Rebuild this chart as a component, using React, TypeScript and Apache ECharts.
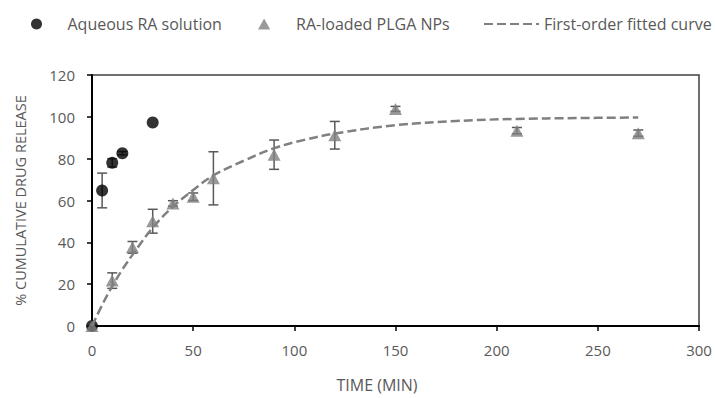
import React, { useEffect, useRef } from "react";
import * as echarts from "echarts";

// Aqueous RA solution
const aqTime = [0, 5, 10, 15, 30];
const aqMean = [0, 64.8, 78.0, 82.6, 97.3];
const aqSd = [0, 8.3, 2.0, 0.8, 0];

// RA-loaded PLGA NPs
const npTime = [0, 10, 20, 30, 40, 50, 60, 90, 120, 150, 210, 270];
const npMean = [0, 21.7, 37.6, 50.1, 58.6, 61.8, 70.6, 81.9, 91.2, 103.8, 93.4, 92.2];
const npSd = [0, 3.7, 2.8, 5.7, 1.3, 1.8, 12.7, 7.0, 6.6, 1.2, 1.5, 1.5];

// First-order fitted curve
const fitTime = [0, 5, 10, 15, 20, 30, 40, 50, 60, 75, 90, 105, 120, 150, 180, 210, 240, 270];
const fitValue = [0, 10, 19, 27, 34, 47, 57, 65, 72, 79, 85, 89, 92, 96, 98, 99, 99.4, 99.7];

const xTicks = { min: 0, max: 300, interval: 50 };
const yTicks = { min: 0, max: 120, interval: 20 };

const FONT = "'Open Sans', sans-serif";
const TXT = "#595959";

function errorBarSeries(name: string, xs: number[], ms: number[], sds: number[], z: number) {
  const data = xs
    .map((x, i) => [x, ms[i] - sds[i], ms[i] + sds[i]])
    .filter((d) => d[2] - d[1] > 0);
  return {
    type: "custom",
    name: name + "-err",
    data,
    z,
    silent: true,
    renderItem: (params: any, api: any) => {
      const x = api.value(0);
      const lo = api.coord([x, api.value(1)]);
      const hi = api.coord([x, api.value(2)]);
      const cap = 5;
      const style = { stroke: "#595959", lineWidth: 1.5, fill: "none" };
      return {
        type: "group",
        children: [
          { type: "line", shape: { x1: hi[0], y1: hi[1], x2: lo[0], y2: lo[1] }, style },
          { type: "line", shape: { x1: hi[0] - cap, y1: hi[1], x2: hi[0] + cap, y2: hi[1] }, style },
          { type: "line", shape: { x1: lo[0] - cap, y1: lo[1], x2: lo[0] + cap, y2: lo[1] }, style },
        ],
      };
    },
  };
}

export default function App() {
  const ref = useRef<HTMLDivElement>(null);
  useEffect(() => {
    document.body.style.margin = "0";
    document.body.style.overflow = "hidden";
    if (!ref.current) return;
    const chart = echarts.init(ref.current, undefined, { renderer: "svg" });
    const legendText = { color: TXT, fontFamily: FONT, fontSize: 16 };
    chart.setOption({
      animation: false,
      backgroundColor: "#fff",
      textStyle: { fontFamily: FONT },
      grid: {
        left: 92,
        right: 16,
        top: 75,
        bottom: 70,
        show: true,
        borderColor: "#404040",
        borderWidth: 1.5,
      },
      legend: [
        {
          data: [{ name: "Aqueous RA solution", icon: "circle" }],
          left: 26,
          top: 11,
          itemWidth: 52,
          itemHeight: 11,
          textStyle: legendText,
          selectedMode: false,
        },
        {
          data: [{ name: "RA-loaded PLGA NPs", icon: "path://M5,0 L10,9 L0,9 Z" }],
          left: 253,
          top: 11,
          itemWidth: 54,
          itemHeight: 11,
          symbolKeepAspect: true,
          textStyle: legendText,
          selectedMode: false,
        },
        {
          data: ["First-order fitted curve"],
          left: 478,
          top: 11,
          itemWidth: 55,
          itemHeight: 11,
          itemStyle: { opacity: 0 },
          textStyle: legendText,
          selectedMode: false,
        },
      ],
      xAxis: {
        type: "value",
        ...xTicks,
        name: "TIME (MIN)",
        nameLocation: "middle",
        nameGap: 51,
        nameTextStyle: { color: TXT, fontFamily: FONT, fontSize: 16, padding: [0, 37, 0, 0] },
        axisLine: { show: true, lineStyle: { color: "#000", width: 2 } },
        axisTick: { show: true, inside: false, length: 5, lineStyle: { color: "#000", width: 1.5 } },
        axisLabel: { color: TXT, fontFamily: FONT, fontSize: 15, margin: 16 },
        splitLine: { show: false },
      },
      yAxis: {
        type: "value",
        ...yTicks,
        name: "% CUMULATIVE DRUG RELEASE",
        nameLocation: "middle",
        nameGap: 64,
        nameTextStyle: { color: TXT, fontFamily: FONT, fontSize: 14.5 },
        axisLine: { show: true, lineStyle: { color: "#000", width: 2 } },
        axisTick: { show: true, inside: false, length: 5, lineStyle: { color: "#000", width: 1.5 } },
        axisLabel: { color: TXT, fontFamily: FONT, fontSize: 15, margin: 17 },
        splitLine: { show: false },
      },
      series: [
        errorBarSeries("aq", aqTime, aqMean, aqSd, 1),
        errorBarSeries("np", npTime, npMean, npSd, 1),
        {
          type: "scatter",
          name: "Aqueous RA solution",
          data: aqTime.map((t, i) => [t, aqMean[i]]),
          symbol: "circle",
          symbolSize: 12,
          itemStyle: { color: "#000" },
          z: 3,
        },
        {
          type: "scatter",
          name: "RA-loaded PLGA NPs",
          data: npTime.map((t, i) => [t, npMean[i]]),
          symbol: "triangle",
          symbolSize: [13, 12],
          itemStyle: { color: "#808080" },
          z: 4,
        },
        {
          type: "line",
          name: "First-order fitted curve",
          data: fitTime.map((t, i) => [t, fitValue[i]]),
          smooth: 0.4,
          symbol: "none",
          showSymbol: false,
          lineStyle: { color: "#808080", width: 2.5, type: [9, 4] },
          itemStyle: { color: "#808080" },
          z: 5,
        },
      ],
    });
    return () => chart.dispose();
  }, []);
  return <div ref={ref} style={{ width: 715, height: 398 }} />;
}
